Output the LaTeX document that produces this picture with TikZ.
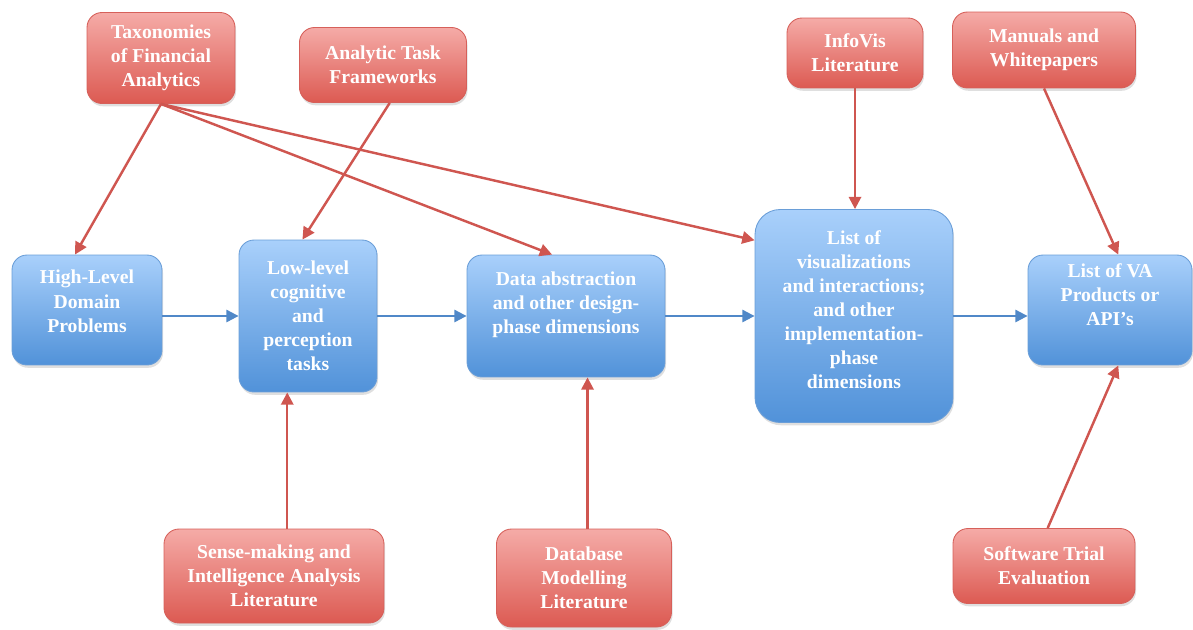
\documentclass[tikz,border=0pt]{standalone}
\usepackage{fontspec}
\setmainfont{Liberation Serif}
\usetikzlibrary{arrows.meta,shadows,calc}

\definecolor{redtop}{HTML}{F5ABA7}
\definecolor{redbot}{HTML}{DC5A52}
\definecolor{redline}{HTML}{D6605A}
\definecolor{bluetop}{HTML}{A9D0FB}
\definecolor{bluebot}{HTML}{5192D9}
\definecolor{blueline}{HTML}{6A9ED8}
\definecolor{redarrow}{HTML}{CF5650}
\definecolor{bluearrow}{HTML}{5088C8}

% extra depth below the last line lifts the text block inside its box
\newcommand{\liftby}[1]{\rule[-#1]{0pt}{0pt}}

\tikzset{
  box/.style={rounded corners=0.3cm, align=center, text=white,
    font=\fontsize{11.2}{13.7}\selectfont\bfseries, line width=0.5pt,
    inner sep=2pt,
    drop shadow={opacity=0.25, shadow xshift=0.6pt, shadow yshift=-1.6pt}},
  srcbox/.style={box, draw=redline, top color=redtop, bottom color=redbot},
  stagebox/.style={box, draw=blueline, top color=bluetop, bottom color=bluebot},
  feed/.style={draw=redarrow, line width=1.4pt,
    -{Triangle[length=7pt,width=7pt]}},
  flow/.style={draw=bluearrow, line width=1.2pt,
    -{Triangle[length=7pt,width=7pt]}}
}

\begin{document}
\begin{tikzpicture}[x=0.02cm,y=-0.02cm]
\useasboundingbox (0,0) rectangle (1193,629);

% source boxes (red)
\node[srcbox, minimum width=2.96cm, minimum height=1.82cm] (tax) at (161,58)
  {Taxonomies\\of Financial\\Analytics};
\node[srcbox, minimum width=3.34cm, minimum height=1.5cm] (ata) at (383,65)
  {Analytic Task\\Frameworks};
\node[srcbox, minimum width=2.72cm, minimum height=1.4cm] (info) at (855,53)
  {InfoVis\\Literature};
\node[srcbox, minimum width=3.66cm, minimum height=1.52cm] (man) at (1044,50)
  {Manuals and\\Whitepapers};
\node[srcbox, minimum width=4.4cm, minimum height=1.88cm] (sense) at (274,576)
  {Sense-making and\\Intelligence Analysis\\Literature};
\node[srcbox, minimum width=3.5cm, minimum height=1.96cm] (db) at (584,578)
  {Database\\Modelling\\Literature};
\node[srcbox, minimum width=3.64cm, minimum height=1.5cm] (soft) at (1044,566)
  {Software Trial\\Evaluation};

% pipeline stages (blue)
\node[stagebox, minimum width=3.0cm, minimum height=2.2cm] (high) at (87,310)
  {High-Level\\Domain\\Problems\liftby{10pt}};
\node[stagebox, minimum width=2.76cm, minimum height=3.04cm] (low) at (308,316)
  {Low-level\\cognitive\\and\\perception\\tasks};
\node[stagebox, minimum width=3.96cm, minimum height=2.44cm] (data) at (566,316)
  {Data abstraction\\and other design-\\phase dimensions\liftby{15pt}};
\node[stagebox, rounded corners=0.5cm, minimum width=3.96cm, minimum height=4.26cm] (vis) at (854,316)
  {List of\\visualizations\\and interactions;\\and other\\implementation-\\phase\\dimensions\liftby{7pt}};
\node[stagebox, minimum width=3.28cm, minimum height=2.2cm] (va) at (1110,310)
  {List of VA\\Products or\\API's\liftby{18pt}};

% main flow
\draw[flow] (low.west -| high.east) -- (low.west);
\draw[flow] (low.east) -- (low.east -| data.west);
\draw[flow] (data.east) -- (data.east -| vis.west);
\draw[flow] (vis.east) -- (vis.east -| va.west);

% feeding sources
\draw[feed] (tax.south) -- ($(high.north west)!0.42!(high.north east)$);
\draw[feed] (tax.south) -- ($(data.north west)!0.43!(data.north east)$);
\draw[feed] (tax.south) -- ($(vis.north west)!0.146!(vis.south west)$);
\draw[feed] ($(ata.south west)!0.54!(ata.south east)$) -- ($(low.north west)!0.46!(low.north east)$);
\draw[feed] (info.south) -- (info.south |- vis.north);
\draw[feed] (man.south) -- ($(va.north west)!0.55!(va.north east)$);
\coordinate (senseTop) at ($(sense.north west)!0.56!(sense.north east)$);
\draw[feed] (senseTop) -- (senseTop |- low.south);
\coordinate (dbTop) at ($(db.north west)!0.52!(db.north east)$);
\draw[feed] (dbTop) -- (dbTop |- data.south);
\draw[feed] ($(soft.north west)!0.52!(soft.north east)$) -- ($(va.south west)!0.55!(va.south east)$);
\end{tikzpicture}
\end{document}
